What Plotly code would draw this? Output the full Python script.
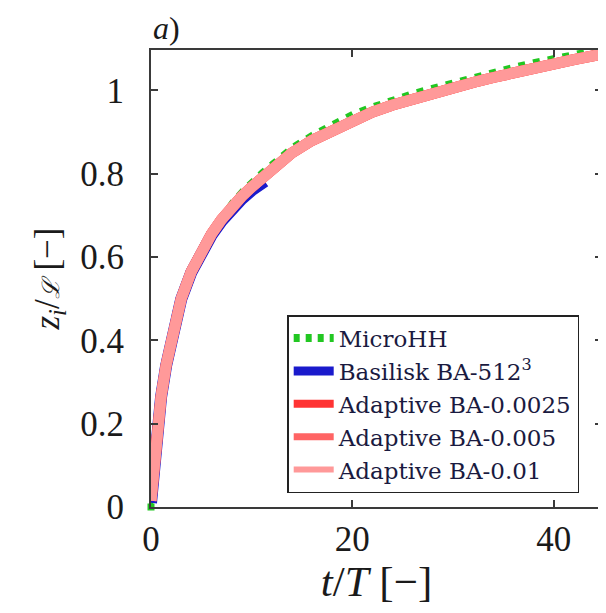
import plotly.graph_objects as go

# ---- data ----
t_adapt = [0, 0.25, 0.5, 0.75, 1, 1.5, 2, 2.5, 3, 4, 5, 6, 7, 8, 9, 10, 11, 12, 14, 16,
           18, 20, 22, 24, 26, 28, 30, 32, 34, 36, 38, 40, 42, 45]
z_adapt_0025 = [0.015, 0.10, 0.17, 0.22, 0.265, 0.34, 0.405, 0.455, 0.50, 0.565, 0.615, 0.655,
                0.69, 0.72, 0.745, 0.768, 0.79, 0.81, 0.85, 0.88, 0.905, 0.93, 0.948, 0.965,
                0.98, 0.993, 1.006, 1.019, 1.031, 1.043, 1.054, 1.064, 1.074, 1.088]
z_adapt_005 = [0.015, 0.10, 0.17, 0.22, 0.265, 0.34, 0.405, 0.455, 0.50, 0.565, 0.615, 0.655,
               0.69, 0.72, 0.745, 0.768, 0.79, 0.81, 0.85, 0.88, 0.905, 0.93, 0.948, 0.965,
               0.98, 0.993, 1.006, 1.019, 1.031, 1.043, 1.054, 1.064, 1.074, 1.088]
z_adapt_01 = [0.015, 0.10, 0.17, 0.22, 0.265, 0.34, 0.405, 0.455, 0.50, 0.565, 0.615, 0.655,
              0.69, 0.72, 0.745, 0.768, 0.79, 0.81, 0.85, 0.88, 0.905, 0.93, 0.948, 0.965,
              0.98, 0.993, 1.006, 1.019, 1.031, 1.043, 1.054, 1.064, 1.074, 1.088]

t_micro = [0, 0.25, 0.5, 0.75, 1, 1.5, 2, 2.5, 3, 4, 5, 6, 7, 8, 9, 10, 11, 12, 14, 16,
           18, 20, 22, 24, 26, 28, 30, 32, 34, 36, 38, 40, 42, 45]
z_micro = [0.0, 0.10, 0.172, 0.223, 0.268, 0.344, 0.41, 0.46, 0.505, 0.571, 0.622, 0.663,
           0.70, 0.733, 0.760, 0.784, 0.806, 0.826, 0.866, 0.896, 0.921, 0.946, 0.964, 0.981,
           0.996, 1.009, 1.022, 1.035, 1.047, 1.059, 1.070, 1.080, 1.090, 1.104]

t_bas = [0, 0.25, 0.5, 0.75, 1, 1.5, 2, 2.5, 3, 4, 5, 6, 7, 8, 9, 10, 11.3]
z_bas = [0.01, 0.10, 0.17, 0.22, 0.264, 0.339, 0.404, 0.454, 0.499, 0.563, 0.613, 0.652,
         0.686, 0.715, 0.739, 0.76, 0.782]

names = ["MicroHH", "Basilisk BA-512<sup>3</sup>", "Adaptive BA-0.0025",
         "Adaptive BA-0.005", "Adaptive BA-0.01"]
x_ticks = [0, 20, 40]
y_ticks = [0, 0.2, 0.4, 0.6, 0.8, 1]
y_ticktext = ["0", "0.2", "0.4", "0.6", "0.8", "1"]

GREEN = "#22c722"
BLUE = "#1a1acc"
RED = "#ff3333"
SALMON = "#ff6464"
PINK = "#ff9999"

fig = go.Figure()

# plotted curves (drawn in legend order, later ones on top)
fig.add_trace(go.Scatter(x=t_micro, y=z_micro, mode="lines", showlegend=False,
                         line=dict(color=GREEN, width=4, dash="7px,8px")))
fig.add_trace(go.Scatter(x=t_bas, y=z_bas, mode="lines", showlegend=False,
                         line=dict(color=BLUE, width=12)))
fig.add_trace(go.Scatter(x=t_adapt, y=z_adapt_0025, mode="lines", showlegend=False,
                         line=dict(color=RED, width=11)))
fig.add_trace(go.Scatter(x=t_adapt, y=z_adapt_005, mode="lines", showlegend=False,
                         line=dict(color=SALMON, width=11)))
fig.add_trace(go.Scatter(x=t_adapt, y=z_adapt_01, mode="lines", showlegend=False,
                         line=dict(color=PINK, width=11)))
# MicroHH starting point (visible green square at the origin)
fig.add_trace(go.Scatter(x=t_micro[:1], y=z_micro[:1], mode="markers", showlegend=False,
                         marker=dict(color=GREEN, size=7, symbol="square"),
                         cliponaxis=False))

# legend entries
leg_styles = [dict(color=GREEN, width=8, dash="6px,6px"),
              dict(color=BLUE, width=9),
              dict(color=RED, width=8),
              dict(color=SALMON, width=7),
              dict(color=PINK, width=6)]
for nm, st in zip(names, leg_styles):
    fig.add_trace(go.Scatter(x=[None], y=[None], mode="lines", name=nm, line=st))

SERIF = "Liberation Serif"
AXC = "#3a3a3a"

# the page adds an 8px body margin, so the figure is 8px smaller and shifted
fig.update_layout(
    width=598, height=597,
    margin=dict(l=143, r=2, t=42, b=98),
    plot_bgcolor="white", paper_bgcolor="white",
    font=dict(family=SERIF, color="#1a1a1a"),
    showlegend=True,
    legend=dict(x=0.302, y=0.42, xanchor="left", yanchor="top",
                bgcolor="white", bordercolor="#222", borderwidth=1.5,
                font=dict(family="DejaVu Serif", size=23, color="#1a1a40"),
                itemwidth=40),
    xaxis=dict(range=[0, 44.8], tickvals=x_ticks, ticktext=[str(v) for v in x_ticks],
               ticks="inside", ticklen=7, tickwidth=1.5, tickcolor=AXC,
               showline=True, linecolor=AXC, linewidth=2, mirror="ticks",
               showgrid=False, zeroline=False,
               tickfont=dict(size=35, family=SERIF),
               title=dict(text="<i>t</i>/<i>T</i> [−]", font=dict(size=43, family=SERIF),
                          standoff=1)),
    yaxis=dict(range=[0, 1.097], tickvals=y_ticks, ticktext=y_ticktext,
               ticks="inside", ticklen=7, tickwidth=1.5, tickcolor=AXC,
               showline=True, linecolor=AXC, linewidth=2, mirror="ticks",
               showgrid=False, zeroline=False,
               tickfont=dict(size=35, family=SERIF), ticklabelstandoff=18,
               title=dict(text="<i>z<sub>i</sub></i>/<span style=\"font-size:24px\"><i>ℒ</i></span> [−]",
                          font=dict(size=35, family=SERIF), standoff=10)),
    annotations=[dict(text="<i>a</i>)", x=0, y=1, xref="paper", yref="paper",
                      xanchor="left", yanchor="bottom", showarrow=False,
                      font=dict(size=32, family=SERIF, color="#1a1a1a"), yshift=2)],
)

fig.write_html("out.html")
